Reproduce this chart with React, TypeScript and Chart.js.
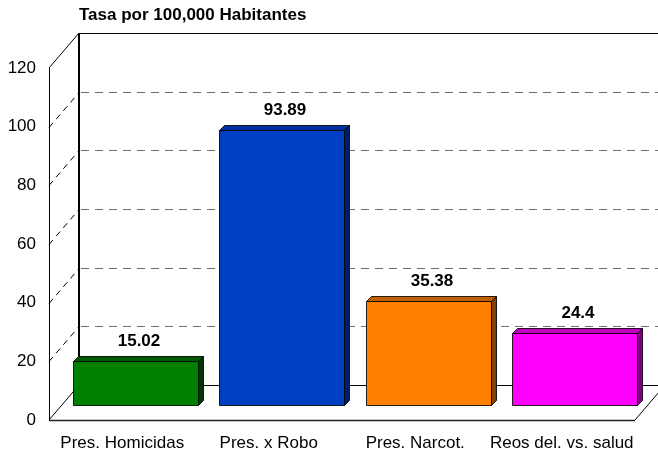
import React, { useEffect, useRef } from "react";
import { Chart, registerables } from "chart.js";

Chart.register(...registerables);

const chartTitle = "Tasa por 100,000 Habitantes";
const categories = ["Pres. Homicidas", "Pres. x Robo", "Pres. Narcot.", "Reos del. vs. salud"];
const values = [15.02, 93.89, 35.38, 24.4];
const valueLabels = ["15.02", "93.89", "35.38", "24.4"];
const frontColors = ["#008000", "#003FC2", "#FF8000", "#FF00FF"];
const topColors = ["#005A00", "#0030A0", "#C06000", "#C000C0"];
const sideColors = ["#003800", "#001E66", "#804000", "#800080"];
const yMin = 0;
const yMax = 120;
const yStep = 20;
const gridValues = [20, 40, 60, 80, 100];

const FONT = "'Liberation Sans', Arial, Helvetica, sans-serif";
const WALL_DX = 30;
const WALL_DY = 35;
const BAR_OX = 13;
const BAR_OY = -15;
const BAR_D = 5;

const threeDPlugin = {
  id: "threeD",
  beforeDatasetsDraw(chart: any) {
    const { ctx, chartArea } = chart;
    const yScale = chart.scales.y;
    const L = chartArea.left;
    const R = chartArea.right;
    const T = Math.round(yScale.getPixelForValue(yMax));
    const B = Math.round(yScale.getPixelForValue(yMin));
    ctx.save();
    ctx.strokeStyle = "#707070";
    ctx.lineWidth = 1;
    ctx.setLineDash([8, 6]);
    for (const v of gridValues) {
      const py = Math.round(yScale.getPixelForValue(v)) + 0.5;
      ctx.beginPath();
      ctx.moveTo(L + WALL_DX + 2, py - WALL_DY);
      ctx.lineTo(R + WALL_DX + 40, py - WALL_DY);
      ctx.stroke();
    }
    ctx.strokeStyle = "#000";
    ctx.setLineDash([6, 5]);
    for (const v of gridValues) {
      const py = Math.round(yScale.getPixelForValue(v)) + 0.5;
      ctx.beginPath();
      ctx.moveTo(L, py);
      ctx.lineTo(L + WALL_DX, py - WALL_DY);
      ctx.stroke();
    }
    ctx.setLineDash([]);
    ctx.strokeStyle = "#000";
    ctx.lineWidth = 2;
    ctx.beginPath();
    ctx.moveTo(L + WALL_DX, B - WALL_DY);
    ctx.lineTo(L + WALL_DX, T - WALL_DY);
    ctx.stroke();
    ctx.lineWidth = 1;
    ctx.beginPath();
    ctx.moveTo(L + WALL_DX, T - WALL_DY + 0.5);
    ctx.lineTo(R + WALL_DX + 40, T - WALL_DY + 0.5);
    ctx.moveTo(L + WALL_DX, B - WALL_DY + 0.5);
    ctx.lineTo(R + WALL_DX + 40, B - WALL_DY + 0.5);
    ctx.moveTo(L + 0.5, T);
    ctx.lineTo(L + 0.5, B);
    ctx.moveTo(L, T);
    ctx.lineTo(L + WALL_DX, T - WALL_DY);
    ctx.moveTo(L, B);
    ctx.lineTo(L + WALL_DX, B - WALL_DY);
    ctx.moveTo(R, B);
    ctx.lineTo(R + WALL_DX, B - WALL_DY);
    ctx.stroke();
    ctx.lineWidth = 1.5;
    ctx.strokeStyle = "#222";
    ctx.beginPath();
    ctx.moveTo(L, B + 0.5);
    ctx.lineTo(R, B + 0.5);
    ctx.stroke();
    ctx.restore();
  },
  afterDatasetsDraw(chart: any) {
    const { ctx } = chart;
    const meta = chart.getDatasetMeta(0);
    ctx.save();
    meta.data.forEach((bar: any, i: number) => {
      const p = bar.getProps(["x", "y", "base", "width"], true);
      const l = Math.round(p.x - p.width / 2 + BAR_OX) + 0.5;
      const r = Math.round(p.x + p.width / 2 + BAR_OX) + 0.5;
      const t = Math.round(p.y + BAR_OY) + 0.5;
      const b = Math.round(p.base + BAR_OY) + 0.5;
      ctx.lineWidth = 1;
      ctx.strokeStyle = "rgba(0,0,0,0.85)";
      ctx.lineJoin = "round";
      ctx.fillStyle = topColors[i];
      ctx.beginPath();
      ctx.moveTo(l, t);
      ctx.lineTo(l + BAR_D, t - BAR_D);
      ctx.lineTo(r + BAR_D, t - BAR_D);
      ctx.lineTo(r, t);
      ctx.closePath();
      ctx.fill();
      ctx.stroke();
      ctx.fillStyle = sideColors[i];
      ctx.beginPath();
      ctx.moveTo(r, t);
      ctx.lineTo(r + BAR_D, t - BAR_D);
      ctx.lineTo(r + BAR_D, b - BAR_D);
      ctx.lineTo(r, b);
      ctx.closePath();
      ctx.fill();
      ctx.stroke();
      ctx.fillStyle = frontColors[i];
      ctx.fillRect(l, t, r - l, b - t);
      ctx.strokeRect(l, t, r - l, b - t);
      ctx.fillStyle = "#000";
      ctx.font = `bold 17px ${FONT}`;
      ctx.textAlign = "center";
      ctx.textBaseline = "middle";
      ctx.fillText(valueLabels[i], (l + r) / 2 + 3, t - 20);
    });
    ctx.restore();
  },
  afterDraw(chart: any) {
    const { ctx } = chart;
    ctx.save();
    ctx.fillStyle = "#000";
    ctx.font = `bold 17px ${FONT}`;
    ctx.textAlign = "left";
    ctx.textBaseline = "middle";
    ctx.fillText(chartTitle, chart.chartArea.left + WALL_DX, 15);
    ctx.restore();
  },
};

export default function App() {
  const canvasRef = useRef<HTMLCanvasElement | null>(null);

  useEffect(() => {
    if (!canvasRef.current) return;
    const chart = new Chart(canvasRef.current, {
      type: "bar",
      data: {
        labels: categories,
        datasets: [
          {
            data: values,
            backgroundColor: "rgba(0,0,0,0)",
            borderWidth: 0,
            categoryPercentage: 1,
            barPercentage: 0.853,
          },
        ],
      },
      options: {
        responsive: false,
        animation: false,
        events: [],
        layout: { padding: { left: 0, right: 23, top: 68, bottom: 0 } },
        plugins: {
          legend: { display: false },
          tooltip: { enabled: false },
          title: { display: false },
        },
        scales: {
          x: {
            grid: { display: false, drawTicks: false },
            border: { display: false },
            ticks: { color: "#000", font: { family: FONT, size: 17 }, padding: 13, maxRotation: 0, autoSkip: false },
            afterFit: (s: any) => {
              s.height = 33;
              s.paddingLeft = 0;
              s.paddingRight = 0;
            },
          },
          y: {
            min: yMin,
            max: yMax,
            grid: { display: false, drawTicks: false },
            border: { display: false },
            ticks: { stepSize: yStep, color: "#000", font: { family: FONT, size: 17 }, padding: 13 },
            afterFit: (s: any) => {
              s.width = 49;
              s.paddingTop = 0;
              s.paddingBottom = 0;
            },
          },
        },
      },
      plugins: [threeDPlugin],
    });
    return () => chart.destroy();
  }, []);

  return (
    <div style={{ position: "fixed", left: 0, top: 0, width: 658, height: 453, background: "#fff" }}>
      <canvas ref={canvasRef} width={658} height={453} style={{ display: "block" }} />
    </div>
  );
}
